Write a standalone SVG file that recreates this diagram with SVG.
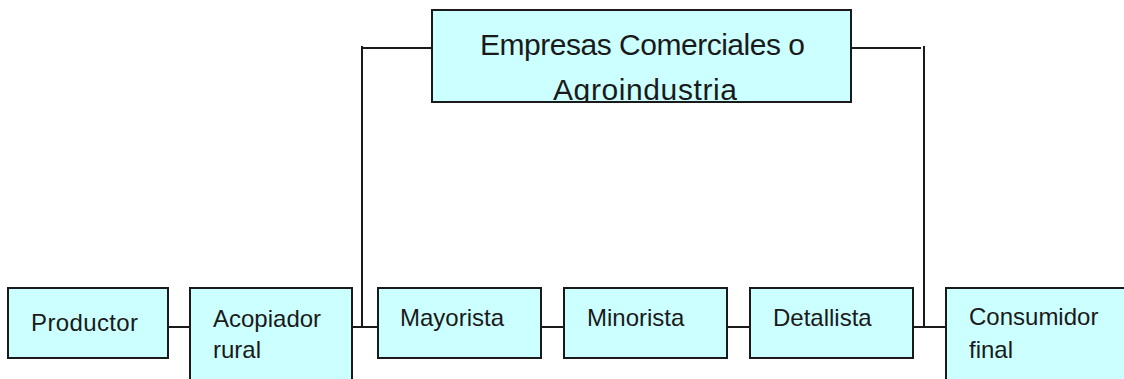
<svg xmlns="http://www.w3.org/2000/svg" width="1124" height="379" viewBox="0 0 1124 379">
<style>
.box{fill:#CCFFFF;stroke:#1a1a1a;stroke-width:2}
.ln{stroke:#1a1a1a;stroke-width:2;fill:none}
.t{font-family:"Liberation Sans",Arial,sans-serif;font-size:24px;fill:#1a1a1a}
.tt{font-family:"Liberation Sans",Arial,sans-serif;font-size:30px;fill:#1a1a1a}
</style>
<defs>
<clipPath id="topclip"><rect x="432" y="10" width="419" height="91"/></clipPath>
</defs>
<rect width="1124" height="379" fill="#fff"/>
<g id="connectors">
<path class="ln" d="M168 327H190"/>
<path class="ln" d="M352 327H378"/>
<path class="ln" d="M362 327V46"/>
<path class="ln" d="M362 48H432"/>
<path class="ln" d="M541 327H564"/>
<path class="ln" d="M727 327H750"/>
<path class="ln" d="M913 327H946"/>
<path class="ln" d="M924 327V46"/>
<path class="ln" d="M851 48H921"/>
</g>
<g id="empresas">
<rect class="box" x="432" y="10" width="419" height="92"/>
<g clip-path="url(#topclip)">
<text class="tt" x="480" y="55" textLength="325" lengthAdjust="spacing">Empresas Comerciales o</text>
<text class="tt" x="553" y="100" textLength="184" lengthAdjust="spacing">Agroindustria</text>
</g>
</g>
<g id="productor">
<rect class="box" x="8" y="288" width="160" height="70"/>
<text class="t" x="31" y="331" textLength="107" lengthAdjust="spacing">Productor</text>
</g>
<g id="acopiador">
<rect class="box" x="190" y="288" width="162" height="110"/>
<text class="t" x="213" y="327">Acopiador</text>
<text class="t" x="213" y="358">rural</text>
</g>
<g id="mayorista">
<rect class="box" x="378" y="288" width="163" height="70"/>
<text class="t" x="400" y="326">Mayorista</text>
</g>
<g id="minorista">
<rect class="box" x="564" y="288" width="163" height="70"/>
<text class="t" x="587" y="326">Minorista</text>
</g>
<g id="detallista">
<rect class="box" x="750" y="288" width="163" height="70"/>
<text class="t" x="773" y="326">Detallista</text>
</g>
<g id="consumidor">
<rect class="box" x="946" y="288" width="200" height="110"/>
<text class="t" x="969" y="325">Consumidor</text>
<text class="t" x="969" y="358">final</text>
</g>
</svg>
